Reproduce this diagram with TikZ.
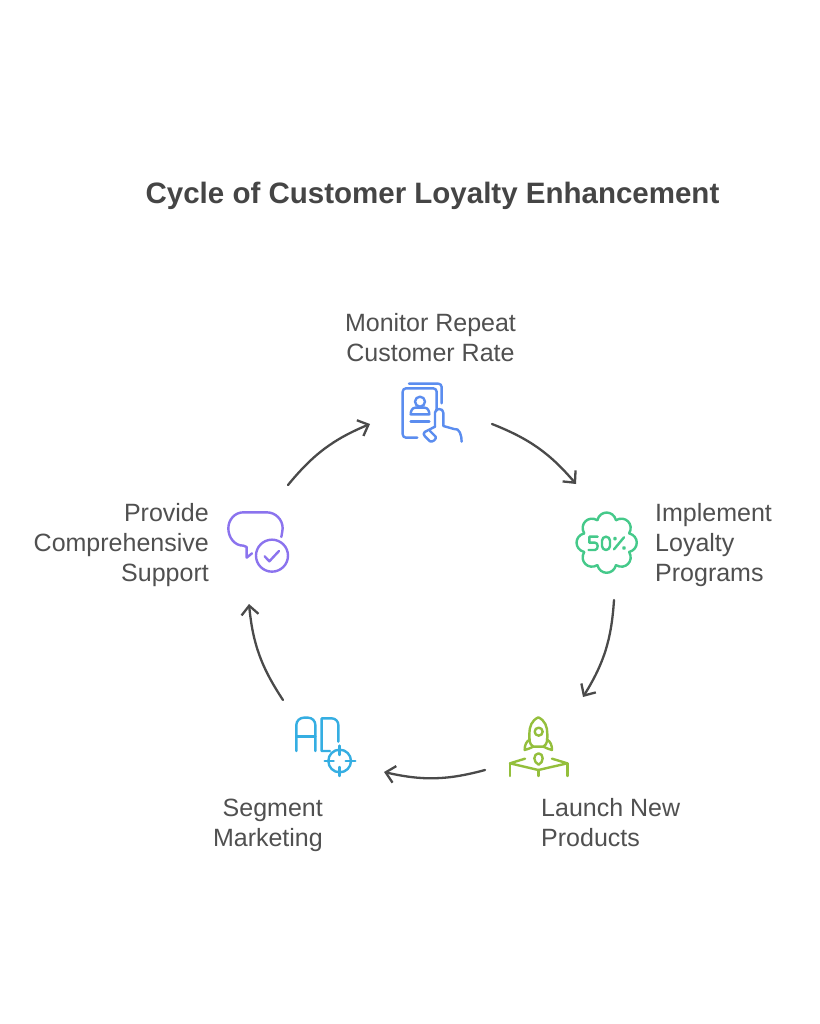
\documentclass[tikz,border=0pt]{standalone}
\usepackage{fontspec}
\setmainfont{Liberation Sans}
\usetikzlibrary{arrows.meta}
\definecolor{txt}{HTML}{505050}
\definecolor{ttl}{HTML}{454545}
\definecolor{arr}{HTML}{4A4A4A}
\definecolor{cblue}{HTML}{5B8DEF}
\definecolor{cgreen}{HTML}{45C98A}
\definecolor{clime}{HTML}{94BF3C}
\definecolor{ccyan}{HTML}{35AEE2}
\definecolor{cpurple}{HTML}{8B73EE}
\tikzset{
 lbl/.style={text=txt,font=\fontsize{25}{30}\selectfont,inner sep=0pt},
 conn/.style={draw=arr,line width=2.3pt,line cap=round,-{Straight Barb[length=9pt,width=17pt,line width=2.3pt]}},
 ico/.style={line width=2.4pt,line cap=round,line join=round,x=0.3333pt,y=-0.3333pt}
}
\begin{document}
\begin{tikzpicture}[x=1pt,y=-1pt]
\useasboundingbox (0,0) rectangle (819,1024);
\fill[white] (0,0) rectangle (819,1024);
\node[text=ttl,font=\fontsize{29.5}{34}\selectfont\bfseries,inner sep=0pt] (title) at (432.5,195.5) {Cycle of Customer Loyalty Enhancement};
\node[lbl,align=center] (l1) at (430.5,338) {Monitor Repeat\\Customer Rate};
\node[lbl,align=left,anchor=west] (l2) at (655,545) {Implement\\Loyalty\\Programs};
\node[lbl,align=left,anchor=west] (l3) at (541,823) {Launch New\\Products};
\node[lbl,align=right,anchor=east] (l4) at (323,825) {Segment\\Marketing};
\node[lbl,align=right,anchor=east] (l5) at (209,545) {Provide\\Comprehensive\\Support};
% icon 1
\begin{scope}[shift={(380,370)},ico,draw=cblue]
\draw (87,41) -- (175,41) to[out=0,in=90] (185,51) -- (185,100);
\draw (112,203) -- (78,203) to[out=180,in=-90] (68,193) -- (68,65) to[out=90,in=180] (78,55) -- (160,55) to[out=0,in=90] (170,65) -- (170,122);
\draw (120,95) circle (15);
\draw (92,133) to[out=90,in=180] (106,113) -- (134,113) to[out=0,in=90] (148,133) -- cycle;
\draw (92,155) -- (148,155);
\draw (165,170) -- (165,128) to[out=90,in=90,looseness=1.5] (190,128) -- (190,168) -- (222,177) to[out=15,in=90] (245,215);
\draw (165,170) -- (134,186) to[out=-150,in=150] (134,198) -- (150,214) to[out=-20,in=-70] (167,200) -- (150,183);
\end{scope}
% icon 2
\begin{scope}[shift={(560,500)},ico,draw=cgreen]
\foreach \a in {0,45,...,315}{
 \coordinate (cp) at ({140+73*cos(\a-22.5)},{128-73*sin(\a-22.5)});
 \coordinate (cq) at ({140+73*cos(\a+22.5)},{128-73*sin(\a+22.5)});
 \draw (cp) to[out=\a+15,in=\a-15,looseness=1.45] (cq);
}
\draw (113,110) -- (88,110) -- (88,128) -- (105,128) to[out=0,in=90] (113,138) to[out=-90,in=0] (105,150) -- (86,150);
\draw[rounded corners=4pt] (126,110) rectangle (150,150);
\draw (162,148) -- (192,112);
\draw (165,116) circle (2.5);
\draw (192,144) circle (2.5);
\end{scope}
% icon 3
\begin{scope}[shift={(490,700)},ico,draw=clime]
\draw (145,52) to[out=-25,in=90] (172,102) to[out=-90,in=30] (160,140) -- (130,140) to[out=150,in=-90] (118,102) to[out=90,in=-155] (145,52) -- cycle;
\draw (146,95) circle (12);
\draw (120,118) to[out=-150,in=90] (104,150) to[out=0,in=-170] (130,140);
\draw (170,118) to[out=-30,in=90] (186,150) to[out=180,in=-10] (160,140);
\draw (146,160) to[out=0,in=90] (158,175) to[out=-90,in=30] (146,194) to[out=150,in=-90] (133,175) to[out=90,in=180] (146,160) -- cycle;
\draw (105,176) -- (60,190) -- (145,210) -- (232,190) -- (186,176);
\draw (60,190) -- (60,228);
\draw (145,210) -- (145,228);
\draw (232,190) -- (232,228);
\end{scope}
% icon 4
\begin{scope}[shift={(280,700)},ico,draw=ccyan]
\draw (49,153) -- (49,75) to[out=90,in=180] (72,53) -- (84,53) to[out=0,in=90] (106,75) -- (106,153);
\draw (49,110) -- (106,110);
\draw (150,153) -- (125,153) -- (125,55) -- (155,55) to[out=0,in=90] (175,75) -- (175,125);
\draw (179,183) circle (34);
\draw (179,137) -- (179,165);
\draw (179,201) -- (179,228);
\draw (134,183) -- (161,183);
\draw (197,183) -- (226,183);
\end{scope}
% icon 5
\begin{scope}[shift={(210,495)},ico,draw=cpurple]
\draw (214,126) to[out=85,in=-90] (218,100) to[out=90,in=0] (170,52) -- (100,52) to[out=180,in=90] (55,100) to[out=-90,in=180] (100,152) -- (110,156) -- (110,188) -- (126,175);
\draw (186,182) circle (48);
\draw (164,184) -- (178,199) -- (207,168);
\end{scope}
% connectors
\coordinate (a1s) at (492,424); \coordinate (a1e) at (576,484);
\coordinate (a2s) at (614,600); \coordinate (a2e) at (583,697);
\coordinate (a3s) at (485,770); \coordinate (a3e) at (384,772);
\coordinate (a4s) at (283,700); \coordinate (a4e) at (249,604);
\coordinate (a5s) at (288,485); \coordinate (a5e) at (370,424);
\draw[conn] (a1s) to[bend left=14] (a1e);
\draw[conn] (a2s) to[bend left=14] (a2e);
\draw[conn] (a3s) to[bend left=14] (a3e);
\draw[conn] (a4s) to[bend left=14] (a4e);
\draw[conn] (a5s) to[bend left=14] (a5e);
\end{tikzpicture}
\end{document}
